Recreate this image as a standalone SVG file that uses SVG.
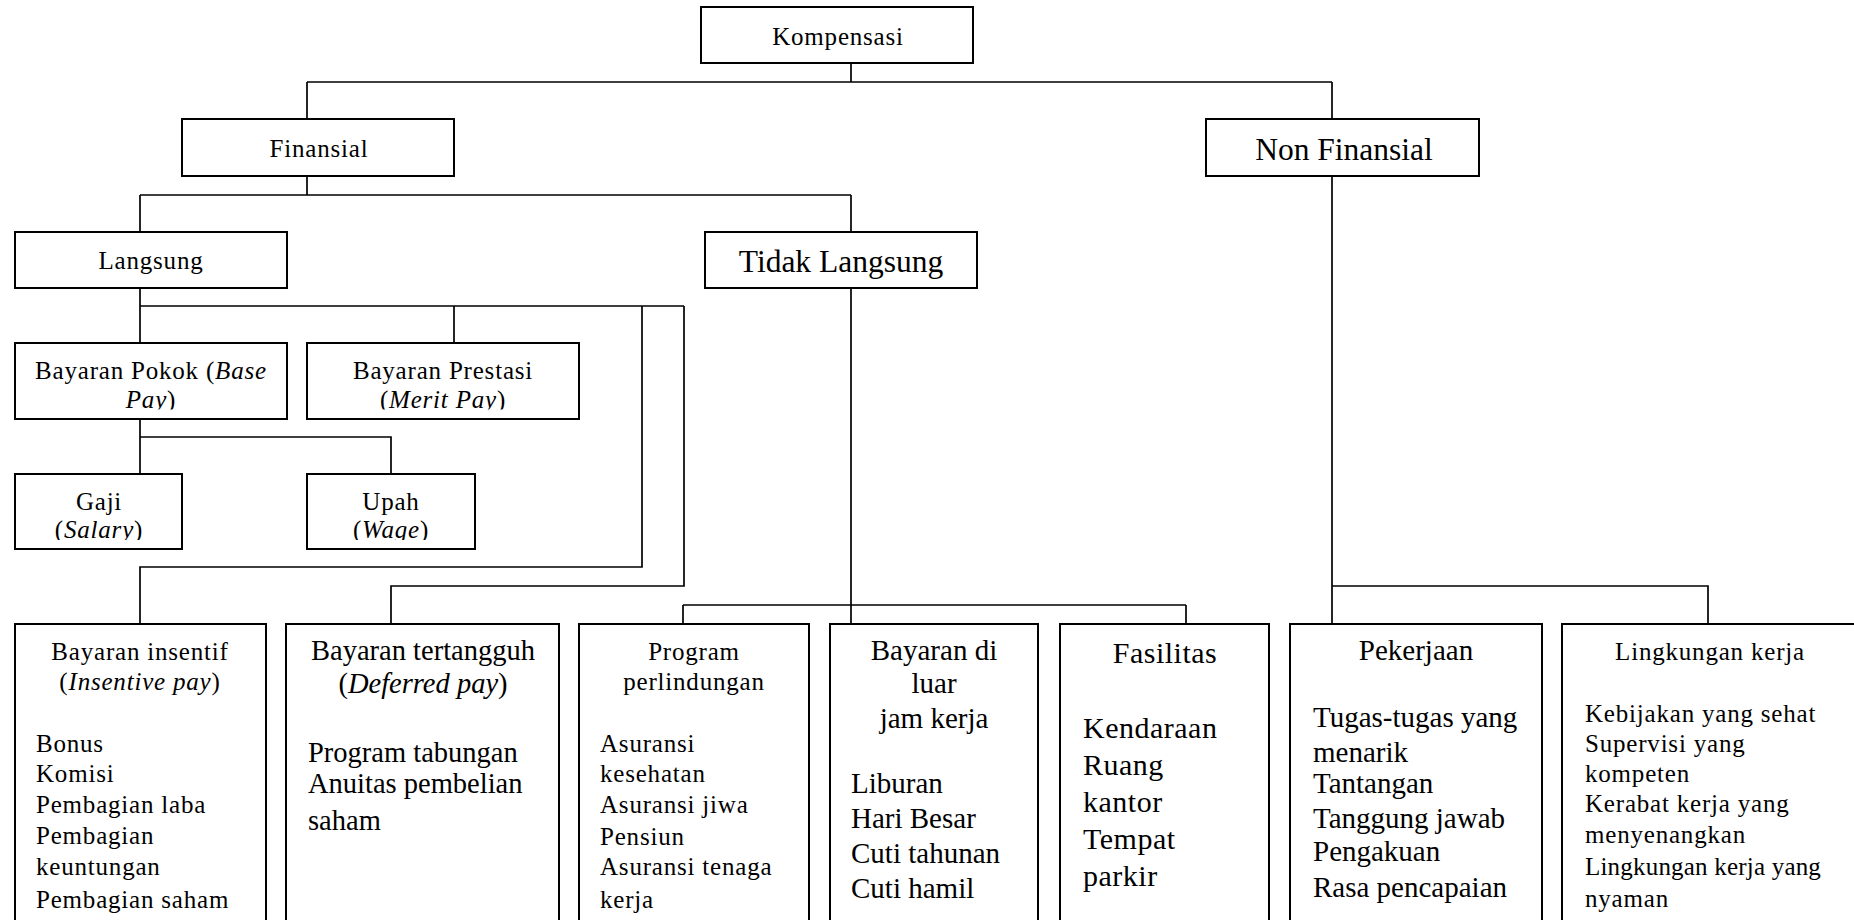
<svg xmlns="http://www.w3.org/2000/svg" width="1854" height="920" viewBox="0 0 1854 920">
<style>
.box{fill:#fff;stroke:#000;stroke-width:2}
.con{fill:none;stroke:#000;stroke-width:1.7}
text{font-family:"Liberation Serif","Times New Roman",serif;fill:#000}
.s{font-size:25px;letter-spacing:0.8px}
.b{font-size:29px}
.c{text-anchor:middle}
.i{font-style:italic}
</style>
<defs>
<clipPath id="clipPokok"><rect x="15" y="343" width="272" height="66.5"/></clipPath>
<clipPath id="clipPrestasi"><rect x="307" y="343" width="272" height="66.5"/></clipPath>
<clipPath id="clipGaji"><rect x="15" y="474" width="167" height="66"/></clipPath>
<clipPath id="clipUpah"><rect x="307" y="474" width="168" height="66"/></clipPath>
</defs>
<rect width="1854" height="920" fill="#fff"/>
<g id="connectors">
<path class="con" d="M851 63V82M307 82H1332M307 82V119M1332 82V119"/>
<path class="con" d="M307 176V195M140 195H851M140 195V232M851 195V232"/>
<path class="con" d="M140 288V343M140 306H684M454 306V343M642 306V567H140V624M684 306V586H391V624"/>
<path class="con" d="M140 419V474M140 437H391V474"/>
<path class="con" d="M851 288V624M683 605H1186M683 605V624M1186 605V624"/>
<path class="con" d="M1332 176V624M1332 586H1708V624"/>
</g>
<g id="kompensasi">
<rect class="box" x="701" y="7" width="272" height="56"/>
<text class="s c" x="838" y="45">Kompensasi</text>
</g>
<g id="finansial">
<rect class="box" x="182" y="119" width="272" height="57"/>
<text class="s c" x="319" y="157">Finansial</text>
</g>
<g id="non-finansial">
<rect class="box" x="1206" y="119" width="273" height="57"/>
<text class="c" x="1344" y="160" style="font-size:31.5px">Non Finansial</text>
</g>
<g id="langsung">
<rect class="box" x="15" y="232" width="272" height="56"/>
<text class="s c" x="151" y="269">Langsung</text>
</g>
<g id="tidak-langsung">
<rect class="box" x="705" y="232" width="272" height="56"/>
<text class="c" x="841" y="272" style="font-size:31.5px">Tidak Langsung</text>
</g>
<g id="bayaran-pokok">
<rect class="box" x="15" y="343" width="272" height="76"/>
<g clip-path="url(#clipPokok)">
<text class="s c" x="151" y="379">Bayaran Pokok (<tspan class="i">Base</tspan></text>
<text class="s c" x="151" y="408"><tspan class="i">Pay</tspan>)</text>
</g>
</g>
<g id="bayaran-prestasi">
<rect class="box" x="307" y="343" width="272" height="76"/>
<g clip-path="url(#clipPrestasi)">
<text class="s c" x="443" y="379">Bayaran Prestasi</text>
<text class="s c" x="443" y="408">(<tspan class="i">Merit Pay</tspan>)</text>
</g>
</g>
<g id="gaji">
<rect class="box" x="15" y="474" width="167" height="75"/>
<g clip-path="url(#clipGaji)">
<text class="s c" x="99" y="510">Gaji</text>
<text class="s c" x="99" y="538">(<tspan class="i">Salary</tspan>)</text>
</g>
</g>
<g id="upah">
<rect class="box" x="307" y="474" width="168" height="75"/>
<g clip-path="url(#clipUpah)">
<text class="s c" x="391" y="510">Upah</text>
<text class="s c" x="391" y="538">(<tspan class="i">Wage</tspan>)</text>
</g>
</g>
<g id="bayaran-insentif">
<rect class="box" x="15" y="624" width="251" height="320"/>
<text class="s c" x="140" y="660">Bayaran insentif</text>
<text class="s c" x="140" y="690">(<tspan class="i">Insentive pay</tspan>)</text>
<text class="s" x="36" y="752">Bonus</text>
<text class="s" x="36" y="782">Komisi</text>
<text class="s" x="36" y="813">Pembagian laba</text>
<text class="s" x="36" y="844">Pembagian</text>
<text class="s" x="36" y="875">keuntungan</text>
<text class="s" x="36" y="908">Pembagian saham</text>
</g>
<g id="bayaran-tertangguh">
<rect class="box" x="286" y="624" width="273" height="320"/>
<text class="c" x="423" y="660" style="font-size:28.5px">Bayaran tertangguh</text>
<text class="c" x="423" y="693" style="font-size:28.5px">(<tspan class="i">Deferred pay</tspan>)</text>
<text x="308" y="762" style="font-size:28.5px">Program tabungan</text>
<text x="308" y="793" style="font-size:28.5px">Anuitas pembelian</text>
<text x="308" y="830" style="font-size:28.5px">saham</text>
</g>
<g id="program-perlindungan">
<rect class="box" x="579" y="624" width="230" height="320"/>
<text class="s c" x="694" y="660">Program</text>
<text class="s c" x="694" y="690">perlindungan</text>
<text class="s" x="600" y="752">Asuransi</text>
<text class="s" x="600" y="782">kesehatan</text>
<text class="s" x="600" y="813">Asuransi jiwa</text>
<text class="s" x="600" y="845">Pensiun</text>
<text class="s" x="600" y="875">Asuransi tenaga</text>
<text class="s" x="600" y="908">kerja</text>
</g>
<g id="bayaran-di-luar-jam-kerja">
<rect class="box" x="830" y="624" width="208" height="320"/>
<text class="b c" x="934" y="660">Bayaran di</text>
<text class="b c" x="934" y="693">luar</text>
<text class="b c" x="934" y="728">jam kerja</text>
<text class="b" x="851" y="793">Liburan</text>
<text class="b" x="851" y="828">Hari Besar</text>
<text class="b" x="851" y="863">Cuti tahunan</text>
<text class="b" x="851" y="898">Cuti hamil</text>
</g>
<g id="fasilitas">
<rect class="box" x="1060" y="624" width="209" height="320"/>
<text class="c" x="1165" y="663" style="font-size:30px;letter-spacing:0.5px">Fasilitas</text>
<text x="1083" y="738" style="font-size:30px;letter-spacing:0.5px">Kendaraan</text>
<text x="1083" y="775" style="font-size:30px;letter-spacing:0.5px">Ruang</text>
<text x="1083" y="812" style="font-size:30px;letter-spacing:0.5px">kantor</text>
<text x="1083" y="849" style="font-size:30px;letter-spacing:0.5px">Tempat</text>
<text x="1083" y="886" style="font-size:30px;letter-spacing:0.5px">parkir</text>
</g>
<g id="pekerjaan">
<rect class="box" x="1290" y="624" width="252" height="320"/>
<text class="b c" x="1416" y="660">Pekerjaan</text>
<text class="b" x="1313" y="727">Tugas-tugas yang</text>
<text class="b" x="1313" y="762">menarik</text>
<text class="b" x="1313" y="793">Tantangan</text>
<text class="b" x="1313" y="828">Tanggung jawab</text>
<text class="b" x="1313" y="861">Pengakuan</text>
<text class="b" x="1313" y="897">Rasa pencapaian</text>
</g>
<g id="lingkungan-kerja">
<rect class="box" x="1562" y="624" width="320" height="320"/>
<text class="s c" x="1710" y="660">Lingkungan kerja</text>
<text class="s" x="1585" y="722">Kebijakan yang sehat</text>
<text class="s" x="1585" y="752">Supervisi yang</text>
<text class="s" x="1585" y="782">kompeten</text>
<text class="s" x="1585" y="812">Kerabat kerja yang</text>
<text class="s" x="1585" y="843">menyenangkan</text>
<text class="s" x="1585" y="875" style="letter-spacing:0.2px">Lingkungan kerja yang</text>
<text class="s" x="1585" y="907">nyaman</text>
</g>
</svg>
